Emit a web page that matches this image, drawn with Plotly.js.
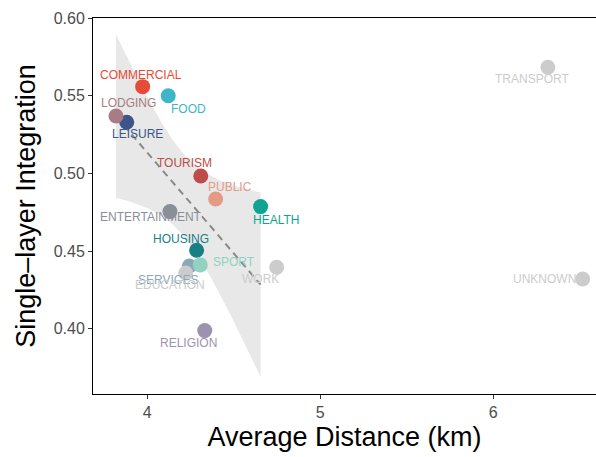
<!DOCTYPE html>
<html>
<head>
<meta charset="utf-8">
<script src="https://cdn.plot.ly/plotly-3.0.1.min.js"></script>
<style>
  html, body { margin: 0; padding: 0; background: #ffffff; }
  #chart { width: 596px; height: 457px; }
</style>
</head>
<body>
<div id="chart"></div>
<script>
// Land-use categories, their average trip distance (km) and single-layer integration
const categories = ["COMMERCIAL", "FOOD", "LEISURE", "LODGING", "TOURISM", "PUBLIC", "HEALTH",
  "ENTERTAINMENT", "HOUSING", "SERVICES", "EDUCATION", "SPORT", "RELIGION", "WORK",
  "TRANSPORT", "UNKNOWN"];
const avgDistance = [3.973, 4.121, 3.881, 3.819, 4.309, 4.395, 4.655,
  4.131, 4.285, 4.243, 4.222, 4.306, 4.332, 4.748,
  6.316, 6.517];
const integration = [0.5558, 0.5500, 0.5329, 0.5369, 0.4983, 0.4835, 0.4786,
  0.4754, 0.4505, 0.4404, 0.4359, 0.4411, 0.3988, 0.4396,
  0.5683, 0.4320];
// categories that enter the linear fit
const inFit = [true, true, true, true, true, true, true,
  true, true, true, false, true, true, false,
  false, false];

const xTicks = [4, 5, 6];
const yTicks = [0.40, 0.45, 0.50, 0.55, 0.60];

// ---- styling ----
const pointColors = ["#E64B35", "#3DB6C8", "#3C5488", "#A97B84", "#BE4D4A", "#E39B88", "#0FA491",
  "#8A8E96", "#187F84", "#88A9BA", "#CCCCCC", "#91D2C1", "#9C94AE", "#CCCCCC",
  "#CCCCCC", "#CCCCCC"];
// label offsets from each point, in pixels (x right, y up)
const labelDx = [-2, 20, 11, 12, -16, 14, 15, -19, -16, -21, -16, 34, -16, -16, -16, -38];
const labelDy = [12, -13, -12, 13, 13, 12, -13, -5, 11, -14, -12, 3, -12, -12, -12, 0];

// ---- linear fit with 95% confidence band ----
function lnGamma(z) {
  const g = 7;
  const c = [0.99999999999980993, 676.5203681218851, -1259.1392167224028, 771.32342877765313,
    -176.61502916214059, 12.507343278686905, -0.13857109526572012, 9.9843695780195716e-6,
    1.5056327351493116e-7];
  if (z < 0.5) return Math.log(Math.PI / Math.sin(Math.PI * z)) - lnGamma(1 - z);
  z -= 1;
  let x = c[0];
  for (let i = 1; i < g + 2; i++) x += c[i] / (z + i);
  const t = z + g + 0.5;
  return 0.5 * Math.log(2 * Math.PI) + (z + 0.5) * Math.log(t) - t + Math.log(x);
}
function tDensity(t, nu) {
  return Math.exp(lnGamma((nu + 1) / 2) - lnGamma(nu / 2)) / Math.sqrt(nu * Math.PI) *
    Math.pow(1 + t * t / nu, -(nu + 1) / 2);
}
function tAreaFromZero(T, nu) {
  const n = 400, h = T / n;
  let s = tDensity(0, nu) + tDensity(T, nu);
  for (let i = 1; i < n; i++) s += (i % 2 ? 4 : 2) * tDensity(i * h, nu);
  return s * h / 3;
}
function tQuantile(p, nu) {
  let lo = 0, hi = 50;
  for (let k = 0; k < 60; k++) {
    const mid = (lo + hi) / 2;
    if (0.5 + tAreaFromZero(mid, nu) < p) lo = mid; else hi = mid;
  }
  return (lo + hi) / 2;
}

const fx = avgDistance.filter((_, i) => inFit[i]);
const fy = integration.filter((_, i) => inFit[i]);
const n = fx.length;
const mx = fx.reduce((a, b) => a + b, 0) / n;
const my = fy.reduce((a, b) => a + b, 0) / n;
let sxx = 0, sxy = 0;
for (let i = 0; i < n; i++) { sxx += (fx[i] - mx) ** 2; sxy += (fx[i] - mx) * (fy[i] - my); }
const slope = sxy / sxx;
const icpt = my - slope * mx;
let ssr = 0;
for (let i = 0; i < n; i++) ssr += (fy[i] - (icpt + slope * fx[i])) ** 2;
const sigma = Math.sqrt(ssr / (n - 2));
const tcrit = tQuantile(0.975, n - 2);

const xMin = Math.min(...fx), xMax = Math.max(...fx);
const gx = [], gFit = [], gUp = [], gLo = [];
for (let k = 0; k < 80; k++) {
  const x = xMin + (xMax - xMin) * k / 79;
  const f = icpt + slope * x;
  const se = sigma * Math.sqrt(1 / n + (x - mx) ** 2 / sxx);
  gx.push(x); gFit.push(f); gUp.push(f + tcrit * se); gLo.push(f - tcrit * se);
}

const band = {
  x: gx.concat(gx.slice().reverse()),
  y: gUp.concat(gLo.slice().reverse()),
  type: "scatter", mode: "lines", fill: "toself",
  fillcolor: "#E8E8E8", line: { width: 0 }, hoverinfo: "skip", showlegend: false
};
const fitLine = {
  x: gx, y: gFit, type: "scatter", mode: "lines",
  line: { color: "#8A8A8A", width: 2, dash: "7px,5px" }, hoverinfo: "skip", showlegend: false
};
const points = {
  x: avgDistance, y: integration, text: categories, type: "scatter", mode: "markers",
  marker: { size: 15, color: pointColors, line: { width: 0 }, opacity: 1 },
  hoverinfo: "text", showlegend: false
};

const annotations = categories.map((c, i) => ({
  x: avgDistance[i], y: integration[i], text: c, showarrow: false,
  xshift: labelDx[i], yshift: labelDy[i],
  font: { family: "Liberation Sans, Arial, sans-serif", size: 12, color: pointColors[i] }
}));

const tickFont = { family: "Liberation Sans, Arial, sans-serif", size: 16, color: "#4D4D4D" };
const titleFont = { family: "Liberation Sans, Arial, sans-serif", size: 27, color: "#000000" };

const layout = {
  width: 596, height: 457,
  margin: { l: 93, r: 0, t: 18, b: 63, pad: 0 },
  paper_bgcolor: "#ffffff", plot_bgcolor: "#ffffff",
  xaxis: {
    range: [3.686, 6.594], tickvals: xTicks, ticktext: xTicks.map(String),
    showgrid: false, zeroline: false,
    showline: true, mirror: true, linecolor: "#000000", linewidth: 1,
    ticks: "outside", ticklen: 4, tickcolor: "#333333", tickwidth: 1,
    tickfont: tickFont,
    title: { text: "Average Distance (km)", font: titleFont, standoff: 6 }
  },
  yaxis: {
    range: [0.358, 0.600], tickvals: yTicks, ticktext: yTicks.map(v => v.toFixed(2)),
    showgrid: false, zeroline: false,
    showline: true, linecolor: "#000000", linewidth: 1,
    ticks: "outside", ticklen: 4, tickcolor: "#333333", tickwidth: 1,
    tickfont: tickFont,
    title: { text: "Single\u2013layer Integration", font: titleFont, standoff: 10 }
  },
  annotations: annotations
};

Plotly.newPlot("chart", [band, fitLine, points], layout, { staticPlot: true, displayModeBar: false });
</script>
</body>
</html>
